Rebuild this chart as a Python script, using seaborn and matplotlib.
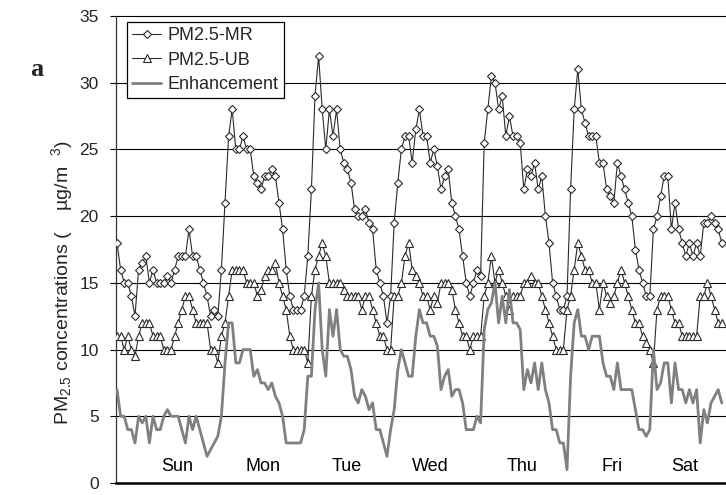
import matplotlib
matplotlib.use("Agg")
import matplotlib.pyplot as plt
import seaborn as sns
import pandas as pd

# ---------------- data (hourly, Sun..Sat) ----------------
pm25_mr = [18, 16, 15, 15, 14, 12.5, 16, 16.5, 17, 15, 16, 15, 15, 15, 15.5, 15, 16, 17, 17, 17,
           19, 17, 17, 16, 15, 14, 12.5, 13, 12.5, 16, 21, 26, 28, 25, 25, 26, 25, 25, 23, 22.5,
           22, 23, 23, 23.5, 23, 21, 19, 16, 14, 13, 13, 13, 14, 17, 22, 29, 32, 28, 25, 28,
           26, 28, 25, 24, 23.5, 22.5, 20.5, 20, 20, 20.5, 19.5, 19, 16, 15, 14, 12, 14, 19.5, 22.5, 25,
           26, 26, 24, 26.5, 28, 26, 26, 24, 25, 23.75, 22, 23, 23.5, 21, 20, 19, 17, 15, 14, 15,
           16, 15.5, 25.5, 28, 30.5, 30, 28, 29, 26, 27.5, 26, 26, 25.5, 22, 23.5, 23, 24, 22, 23, 20,
           18, 15, 14, 13, 13, 14, 22, 28, 31, 28, 27, 26, 26, 26, 24, 24, 22, 21.5, 21, 24,
           23, 22, 21, 20, 17.5, 16, 15, 14, 14, 19, 20, 21.5, 23, 23, 19, 21, 19, 18, 17, 18,
           17, 18, 17, 19.5, 19.5, 20, 19.5, 19, 18]
pm25_ub = [11, 11, 10, 11, 10, 9.5, 11, 12, 12, 12, 11, 11, 11, 10, 10, 10, 11, 12, 13, 14,
           14, 13, 12, 12, 12, 12, 10, 10, 9, 11, 12, 14, 16, 16, 16, 16, 15, 15, 15, 14,
           14.5, 15.5, 16, 16, 16.5, 15, 14, 13, 11, 10, 10, 10, 10, 9, 14, 16, 17, 18, 17, 15,
           15, 15, 15, 14.5, 14, 14, 14, 14, 13, 14, 14, 13, 12, 11, 11, 10, 10, 14, 14, 15,
           17, 18, 16, 15.5, 15, 14, 14, 13, 14, 13.5, 15, 15, 15, 14.5, 13, 12, 11, 11, 10, 11,
           11, 11, 14, 15, 17, 15, 16, 15, 14, 13, 14, 14, 14, 15, 15, 15.5, 15, 15, 14, 13,
           12, 11, 10, 10, 10, 13, 14, 16, 18, 17, 16, 16, 15, 15, 13, 15, 14, 13.5, 14, 15,
           16, 15, 14, 13, 12, 12, 11, 10.5, 10, 9, 13, 14, 14, 14, 13, 12, 12, 11, 11, 11,
           11, 11, 14, 14, 15, 14, 13, 12, 12]
enhancement = [7, 5, 5, 4, 4, 3, 5, 4.5, 5, 3, 5, 4, 4, 5, 5.5, 5, 5, 5, 4, 3,
               5, 4, 5, 4, 3, 2, 2.5, 3, 3.5, 5, 9, 12, 12, 9, 9, 10, 10, 10, 8, 8.5,
               7.5, 7.5, 7, 7.5, 6.5, 6, 5, 3, 3, 3, 3, 3, 4, 8, 8, 13, 15, 10, 8, 13,
               11, 13, 10, 9.5, 9.5, 8.5, 6.5, 6, 7, 6.5, 5.5, 6, 4, 4, 3, 2, 4, 5.5, 8.5, 10,
               9, 8, 8, 11, 13, 12, 12, 11, 11, 10.25, 7, 8, 8.5, 6.5, 7, 7, 6, 4, 4, 4,
               5, 4.5, 11.5, 13, 13.5, 15, 12, 14, 12, 14.5, 12, 12, 11.5, 7, 8.5, 7.5, 9, 7, 9, 7,
               6, 4, 4, 3, 3, 1, 8, 12, 13, 11, 11, 10, 11, 11, 11, 9, 8, 8, 7, 9,
               7, 7, 7, 7, 5.5, 4, 4, 3.5, 4, 10, 7, 7.5, 9, 9, 6, 9, 7, 7, 6, 7,
               6, 7, 3, 5.5, 4.5, 6, 6.5, 7, 6]
day_labels = ["Sun", "Mon", "Tue", "Wed", "Thu", "Fri", "Sat"]
day_label_pos = [16.7, 40.6, 63.9, 86.9, 112.5, 137.5, 157.8]
y_ticks = [0, 5, 10, 15, 20, 25, 30, 35]

hours = list(range(len(pm25_mr)))
df = pd.DataFrame({"hour": hours, "mr": pm25_mr, "ub": pm25_ub, "enh": enhancement})

# ---------------- style ----------------
sns.set_style("white")
plt.rcParams["font.family"] = ["Liberation Sans", "DejaVu Sans"]
plt.rcParams["mathtext.fontset"] = "custom"
plt.rcParams["mathtext.rm"] = "Liberation Sans"
plt.rcParams["mathtext.it"] = "Liberation Sans"

W, H = 726, 495
fig = plt.figure(figsize=(W / 100, H / 100), dpi=100)
ax = fig.add_axes([116 / W, 12 / H, 614 / W, 467 / H])

# horizontal gridlines (Excel style)
for yv in y_ticks[1:]:
    ax.axhline(yv, color="black", lw=0.8, zorder=0, clip_on=False)

sns.lineplot(data=df, x="hour", y="mr", ax=ax, color="#2a2a2a", lw=0.8,
             marker="D", markersize=4.3, markerfacecolor="white",
             markeredgecolor="#2a2a2a", markeredgewidth=0.8,
             estimator=None, label="PM2.5-MR", zorder=3)
sns.lineplot(data=df, x="hour", y="ub", ax=ax, color="#2a2a2a", lw=0.8,
             marker="^", markersize=5.5, markerfacecolor="white",
             markeredgecolor="#2a2a2a", markeredgewidth=0.8,
             estimator=None, label="PM2.5-UB", zorder=3)
sns.lineplot(data=df, x="hour", y="enh", ax=ax, color="#808080", lw=2.0,
             estimator=None, label="Enhancement", zorder=4)

ax.set_xlim(-1 / 3.6, 614 / 3.6 - 1 / 3.6)
ax.set_ylim(0, 35)
ax.set_yticks(y_ticks)
ax.set_yticklabels([str(v) for v in y_ticks], fontsize=12.5)
ax.set_xticks([])
ax.set_xlabel("")
ax.set_ylabel("")
ax.tick_params(axis="y", direction="out", length=4.5, width=0.8, color="black", pad=8, left=True)

for s in ["top", "right"]:
    ax.spines[s].set_visible(False)
ax.spines["left"].set_color("#333333")
ax.spines["left"].set_linewidth(0.9)
ax.spines["bottom"].set_color("black")
ax.spines["bottom"].set_linewidth(1.8)

for lab, pos in zip(day_labels, day_label_pos):
    ax.text(pos, 1.2, lab, ha="center", va="center", fontsize=13, color="black")

leg = ax.legend(loc="upper left", bbox_to_anchor=(11 / 614, 1 - 6 / 467), fontsize=13,
                frameon=True, fancybox=False, shadow=False, framealpha=1,
                edgecolor="black", borderpad=0.3, labelspacing=0.4,
                handlelength=1.6, handletextpad=0.35, borderaxespad=0)
leg.get_frame().set_linewidth(0.9)

fig.text(62 / W, 1 - 283 / H, "PM$_{2.5}$ concentrations (    \u00b5g/m  $^{3}$)",
         rotation=90, ha="center", va="center", fontsize=14)
fig.text(37 / W, 1 - 69 / H, "a", fontsize=19, fontweight="bold",
         family="Liberation Serif", ha="center", va="center")

fig.savefig("out.png", dpi=100)
